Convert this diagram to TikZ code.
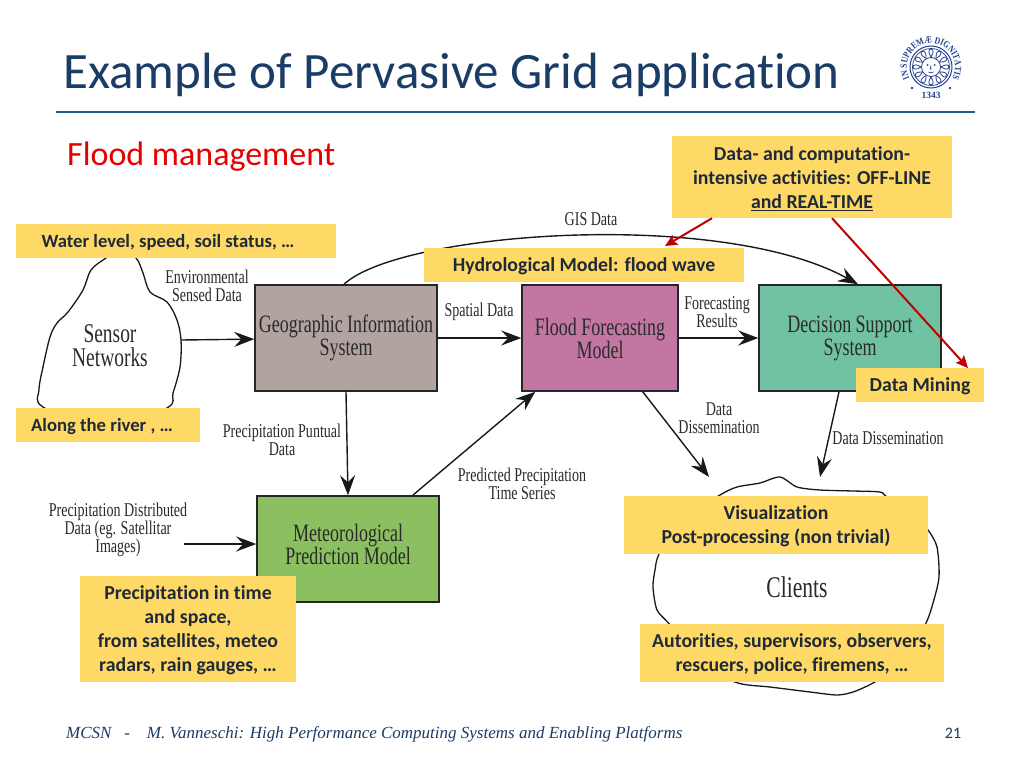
\documentclass[tikz,border=0pt]{standalone}
\usepackage{fontspec}
\usetikzlibrary{arrows.meta,decorations.text}
\setmainfont[Ligatures=NoCommon]{Carlito}
\newfontfamily\condf[FakeStretch=0.72]{Liberation Serif}
\newfontfamily\logof[FakeStretch=0.8]{Liberation Serif}
\newfontfamily\timesf{Liberation Serif}
\newcommand{\dn}[1]{\raisebox{-1.5pt}[\height][\depth]{#1}}
\newcommand{\up}[1]{\raisebox{4.5pt}[\height][\depth]{#1}}
\definecolor{notefill}{HTML}{FFD966}
\definecolor{notetext}{HTML}{1F2A38}
\definecolor{titleblue}{HTML}{1B3C66}
\definecolor{rulecol}{HTML}{245A86}
\definecolor{logoblue}{HTML}{24408E}
\definecolor{redarrow}{HTML}{C00000}
\definecolor{diagtext}{HTML}{2A2A2A}
\tikzset{
 x=1pt,y=-1pt,
 note/.style={fill=notefill,inner sep=0pt,align=center,text=notetext,
   font=\fontsize{19.8}{24}\selectfont\bfseries},
 smallnote/.style={note,font=\fontsize{18.7}{24}\selectfont\bfseries},
 block/.style={draw=black!85,line width=1.5pt,minimum width=182pt,minimum height=106pt,inner sep=0pt,
   align=center,text=diagtext,font=\condf\fontsize{25}{23}\selectfont},
 lab/.style={inner sep=0pt,align=center,text=diagtext,font=\condf\fontsize{19.5}{18}\selectfont},
 biglab/.style={inner sep=0pt,align=center,text=diagtext,font=\condf\fontsize{27}{24}\selectfont},
 arr/.style={draw=black!90,line width=1.4pt,-{Stealth[length=20pt,width=15pt,inset=7pt]}},
 redarr/.style={draw=redarrow,line width=2pt,-{Stealth[length=12pt,width=11pt,inset=2pt]}},
 cloudline/.style={draw=black!90,line width=1.3pt,fill=white},
}
\begin{document}
\begin{tikzpicture}
\useasboundingbox (0,0) rectangle (1024,768);
\fill[white] (0,0) rectangle (1024,768);
% header
\node[anchor=west,inner sep=0pt,text=titleblue,font=\fontsize{51}{53}\selectfont] (title) at (63,75) {Example of Pervasive Grid application};
\coordinate (ruleL) at (56,112);
\coordinate (ruleR) at (975,112);
\draw[rulecol,line width=1.6pt] (ruleL) -- (ruleR);
\node[anchor=west,inner sep=0pt,text=red!90!black,font=\fontsize{34}{36}\selectfont] (sub) at (67,157) {Flood management};
% logo
\begin{scope}[shift={(931,67)},y=1pt]
 \draw[logoblue,line width=1pt] (0,0) circle (21);
 \draw[logoblue,line width=0.7pt] (0,0) circle (18.5);
 \foreach \a in {0,30,...,330}{
   \draw[logoblue,line width=0.8pt] (\a:10) .. controls (\a+12:15) and (\a+8:18) .. (\a:18);
   \draw[logoblue,line width=0.8pt] (\a:10) .. controls (\a-12:15) and (\a-8:18) .. (\a:18);
 }
 \draw[logoblue,fill=white,line width=0.8pt] (0,0) circle (9.5);
 \fill[logoblue] (-3.5,2) circle (1) (3.5,2) circle (1);
 \draw[logoblue,line width=0.7pt] (0,1.5) -- (-0.8,-2) -- (0.8,-2) (-2.5,-5) .. controls (-1,-6) and (1,-6) .. (2.5,-5);
 \path[decorate,decoration={text along path,text align=center,text color=logoblue,
   text={|\logof\bfseries\fontsize{9.6}{10}\selectfont|IN SUPREMÆ DIGNITATIS}}]
   (232:24) arc[start angle=232,end angle=-52,radius=24];
 \node[inner sep=0pt,text=logoblue,font=\timesf\bfseries\fontsize{9.5}{10}\selectfont] (year) at (0,-28) {1343};
 \fill[logoblue] (-19,-21) circle (1.3) (19,-21) circle (1.3);
\end{scope}
% clouds
\path[cloudline] plot[smooth cycle,tension=0.55] coordinates {
 (120,250)(136,258)(143,273)(150,292)(167,302)(177,320)(181,340)(180,367)(173,393)(167,408)
 (105,432)(43,407)(39,390)(43,367)(50,337)(57,323)(68,312)(83,290)(91,270)(106,258)};
\path[cloudline] plot[smooth cycle,tension=0.45] coordinates {
 (720,495)(737,487)(760,483)(780,477)(797,487)(820,490)(853,491)(880,492)(887,497)
 (910,510)(928,530)(937,547)(939,577)(933,603)(925,625)(900,665)
 (873,683)(853,692)(837,695)(810,692)(770,687)(738,683)
 (700,665)(670,625)(657,610)(653,587)(655,570)(659,554)(680,520)};
\coordinate (sensorE) at (181,340);
\coordinate (clientA) at (709,477);
\coordinate (clientB) at (820,477);
\coordinate (distE) at (184,544);
\node[biglab] (sensor) at (110,346) {Sensor\\Networks};
\node[biglab,font=\condf\fontsize{30}{30}\selectfont] (clients) at (797,587) {Clients};
% blocks
\node[block,fill={rgb,255:red,176;green,163;blue,160}] (gis) at (346,338) {Geographic Information\\System};
\node[block,fill={rgb,255:red,194;green,119;blue,163},minimum width=156pt] (flood) at (600,338) {Flood Forecasting\\Model};
\node[block,fill={rgb,255:red,112;green,194;blue,162}] (dss) at (850,338) {Decision Support\\System};
\node[block,fill={rgb,255:red,139;green,192;blue,97}] (met) at (348,549) {\up{Meteorological}\\\up{Prediction Model}};
% connectors
\draw[arr] (sensorE) -- (gis);
\draw[arr] (gis) -- (flood);
\draw[arr] (flood) -- (dss);
\draw[arr] (gis.south) -- (met.north);
\draw[arr] ([xshift=-27pt]met.north east) -- ([xshift=14pt]flood.south west);
\draw[arr] ([xshift=-36pt]flood.south east) -- (clientA);
\draw[arr] ([xshift=-11pt]dss.south) -- (clientB);
\draw[arr] (distE) -- (met.west |- distE);
\draw[arr] ([xshift=-2pt]gis.north) .. controls (400,232) and (720,208) .. ([xshift=8pt]dss.north);
% labels
\node[lab] (l1) at (591,219) {GIS Data};
\node[lab] (l2) at (207,286) {Environmental\\Sensed Data};
\node[lab] (l3) at (479,312) {Spatial Data};
\node[lab] (l4) at (717,312) {Forecasting\\Results};
\node[lab] (l5) at (719,418) {Data\\Dissemination};
\node[lab] (l6) at (888,438) {Data Dissemination};
\node[lab] (l7) at (282,440) {Precipitation Puntual\\Data};
\node[lab] (l8) at (522,484) {Predicted Precipitation\\Time Series};
\node[lab] (l9) at (118,530) {Precipitation Distributed\\Data (eg. Satellitar\\Images)};
% notes
\node[smallnote,minimum width=320pt,minimum height=34pt] (n1) at (176,241) {\hspace*{-16pt}\dn{Water level, speed, soil status, …}};
\node[smallnote,minimum width=184pt,minimum height=34pt] (n2) at (108,425) {\hspace*{-12pt}\dn{Along the river , …}};
\node[note,minimum width=320pt,minimum height=34pt] (n3) at (584,265) {\dn{Hydrological Model: flood wave}};
\node[note,minimum width=280pt,minimum height=82pt] (n4) at (812,177) {\dn{Data- and computation-}\\\dn{intensive activities: OFF-LINE}\\\dn{\underline{and REAL-TIME}}};
\node[note,minimum width=128pt,minimum height=34pt] (n5) at (920,385) {\dn{Data Mining}};
\node[note,minimum width=304pt,minimum height=58pt] (n6) at (776,525) {\dn{Visualization}\\\dn{Post-processing (non trivial)}};
\node[note,minimum width=304pt,minimum height=58pt] (n7) at (792,653) {\dn{Autorities, supervisors, observers,}\\\dn{rescuers, police, firemens, …}};
\node[note,minimum width=216pt,minimum height=106pt] (n8) at (188,629) {\dn{Precipitation in time}\\\dn{and space,}\\\dn{from satellites, meteo}\\\dn{radars, rain gauges, …}};
% red arrows
\coordinate (mineEnd) at (968,368);
\coordinate (hydroEnd) at (665,246);
\draw[redarr] ([xshift=-100pt]n4.south) -- (hydroEnd);
\draw[redarr] ([xshift=20pt]n4.south) -- (mineEnd);
% footer
\node[anchor=west,inner sep=0pt,text=titleblue,font=\timesf\itshape\fontsize{17}{19}\selectfont] (foot) at (66,734) {MCSN\ \ \ -\ \ \ \ M. Vanneschi: High Performance Computing Systems and Enabling Platforms};
\node[inner sep=0pt,text=titleblue,font=\fontsize{16}{18}\selectfont] (page) at (953,733) {21};
\end{tikzpicture}
\end{document}
